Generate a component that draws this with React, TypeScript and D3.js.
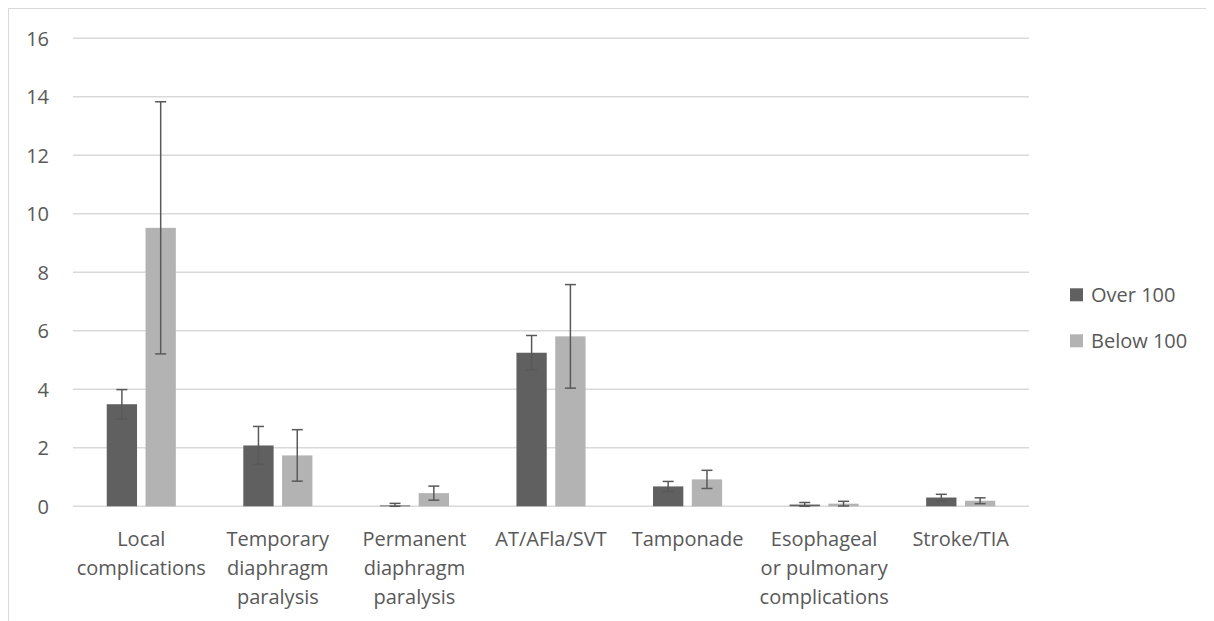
import React, { useEffect, useRef } from 'react';
import * as d3 from 'd3';

const categories = [
  ['Local', 'complications'],
  ['Temporary', 'diaphragm', 'paralysis'],
  ['Permanent', 'diaphragm', 'paralysis'],
  ['AT/AFla/SVT'],
  ['Tamponade'],
  ['Esophageal', 'or pulmonary', 'complications'],
  ['Stroke/TIA'],
];
const seriesNames = ['Over 100', 'Below 100'];
const overValues = [3.49, 2.08, 0.03, 5.25, 0.68, 0.06, 0.3];
const overErrors = [0.5, 0.65, 0.07, 0.59, 0.17, 0.07, 0.11];
const belowValues = [9.52, 1.74, 0.45, 5.81, 0.92, 0.09, 0.19];
const belowErrors = [4.31, 0.88, 0.24, 1.77, 0.31, 0.08, 0.1];
const yTicks = [0, 2, 4, 6, 8, 10, 12, 14, 16];

const colors = ['#606060', '#b3b3b3'];
const textColor = '#595959';
const font = '"Open Sans", sans-serif';

const width = 1205;
const height = 613;

const drawChart = (element: SVGSVGElement) => {
  const svg = d3.select(element);
  svg.selectAll('*').remove();

  // chart frame (bottom edge runs off the page)
  svg.append('rect')
    .attr('x', 0.5).attr('y', 0.5)
    .attr('width', width - 1).attr('height', height + 20)
    .attr('fill', '#fff').attr('stroke', '#d9d9d9');

  const left = 65, right = 1021, top = 30.3, bottom = 498.3;
  const keys = categories.map((c) => c.join(' '));
  const x = d3.scaleBand().domain(keys).range([left, right]);
  const y = d3.scaleLinear().domain([0, 16]).range([bottom, top]);

  const grid = svg.append('g');
  grid.selectAll('line').data(yTicks).enter().append('line')
    .attr('x1', left).attr('x2', right)
    .attr('y1', (d) => y(d)).attr('y2', (d) => y(d))
    .attr('stroke', '#d9d9d9').attr('stroke-width', 1.4);
  grid.selectAll('text').data(yTicks).enter().append('text')
    .attr('x', 41).attr('y', (d) => y(d)).attr('dy', '0.36em')
    .attr('text-anchor', 'end')
    .style('font-family', font).style('font-size', '20px').style('fill', textColor)
    .text((d) => d);

  const barW = 30.3, gap = 8.5;
  const series = [
    { values: overValues, errors: overErrors },
    { values: belowValues, errors: belowErrors },
  ];
  series.forEach((s, si) => {
    const g = svg.append('g');
    const bx = (i: number) => {
      const c = x(keys[i])! + x.bandwidth() / 2;
      return si === 0 ? c - gap / 2 - barW : c + gap / 2;
    };
    s.values.forEach((v, i) => {
      g.append('rect')
        .attr('x', bx(i)).attr('width', barW)
        .attr('y', y(v)).attr('height', y(0) - y(v))
        .attr('fill', colors[si]);
    });
    s.values.forEach((v, i) => {
      const cx = bx(i) + barW / 2;
      const lo = y(Math.max(0, v - s.errors[i]));
      const hi = y(v + s.errors[i]);
      const eg = g.append('g').attr('stroke', '#595959').attr('stroke-width', 1.5);
      eg.append('line').attr('x1', cx).attr('x2', cx).attr('y1', lo).attr('y2', hi);
      eg.append('line').attr('x1', cx - 5.5).attr('x2', cx + 5.5).attr('y1', hi).attr('y2', hi);
      eg.append('line').attr('x1', cx - 5.5).attr('x2', cx + 5.5).attr('y1', lo).attr('y2', lo);
    });
  });

  // category labels
  const labels = svg.append('g');
  categories.forEach((lines, i) => {
    const t = labels.append('text')
      .attr('text-anchor', 'middle')
      .style('font-family', font).style('font-size', '20px').style('fill', textColor);
    lines.forEach((line, li) => {
      t.append('tspan')
        .attr('x', x(keys[i])! + x.bandwidth() / 2)
        .attr('y', 538 + li * 29)
        .text(line);
    });
  });

  // legend
  const legend = svg.append('g');
  seriesNames.forEach((name, i) => {
    const ly = 280.3 + i * 46;
    legend.append('rect')
      .attr('x', 1062).attr('y', ly).attr('width', 13).attr('height', 13)
      .attr('fill', colors[i]);
    legend.append('text')
      .attr('x', 1083).attr('y', ly + 14)
      .style('font-family', font).style('font-size', '20px').style('fill', textColor)
      .text(name);
  });
};

export default function App() {
  const ref = useRef<SVGSVGElement>(null);
  useEffect(() => {
    if (ref.current) drawChart(ref.current);
  }, []);
  return <svg ref={ref} width={width} height={height} style={{ display: 'block' }} />;
}
